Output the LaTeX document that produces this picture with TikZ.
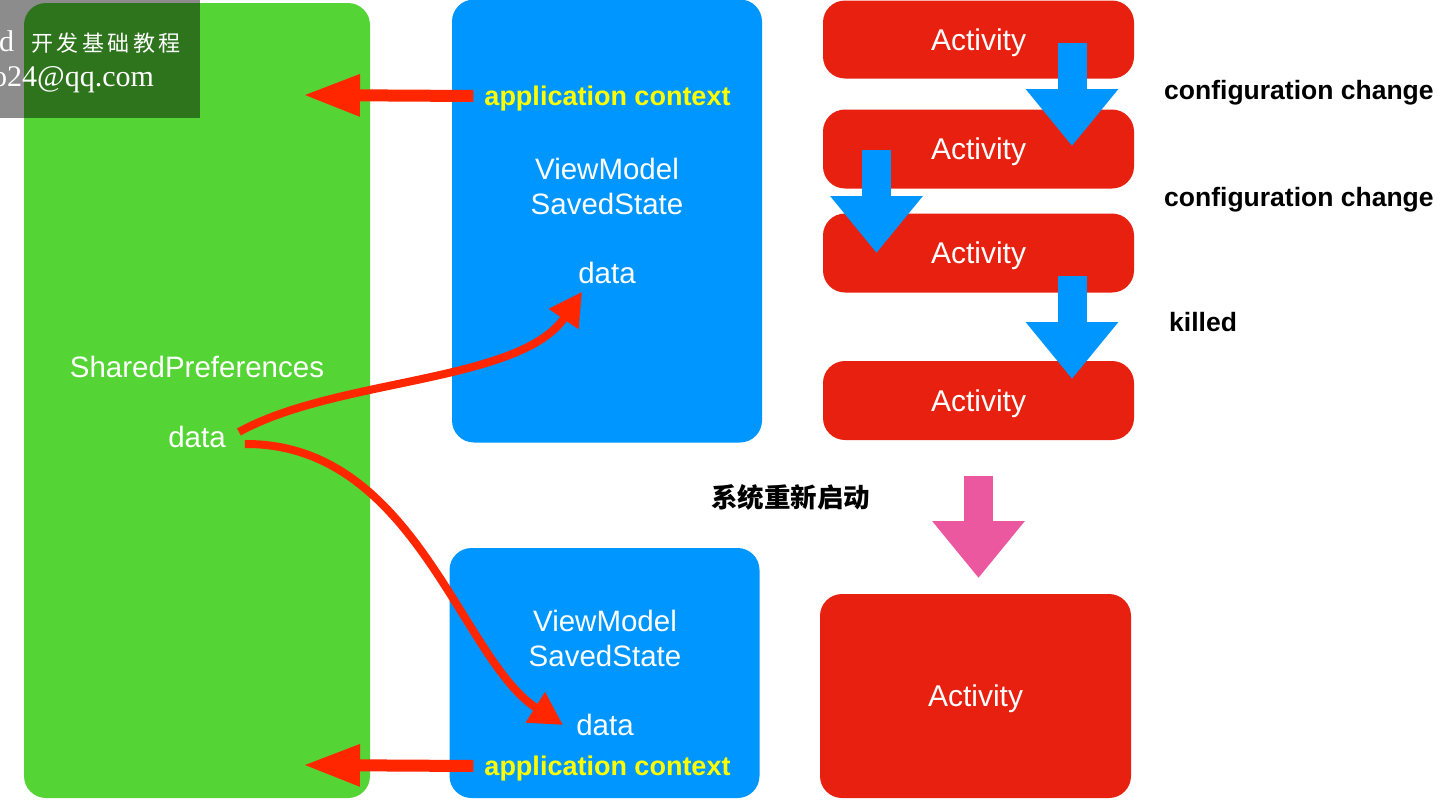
\documentclass[tikz,border=0pt]{standalone}
\usepackage{fontspec}
\setmainfont{Liberation Sans}
\newfontfamily\cjk{Noto Sans CJK SC}
\newfontfamily\wmserif{Liberation Serif}
\newfontfamily\wmcjk{Noto Sans CJK SC}[LetterSpace=16]
\usepackage{xcolor}
\usetikzlibrary{positioning,arrows.meta}

\definecolor{spgreen}{RGB}{85,212,53}
\definecolor{vmblue}{RGB}{0,150,255}
\definecolor{actred}{RGB}{232,32,16}
\definecolor{arrred}{RGB}{255,38,0}
\definecolor{restartpink}{RGB}{236,88,160}
\definecolor{ctxyellow}{RGB}{255,255,0}

\begin{document}
\begin{tikzpicture}[x=1pt,y=-1pt,
	panel/.style={rectangle, rounded corners=22pt, inner sep=0pt, draw=none},
	spbox/.style={panel, fill=spgreen, minimum width=346pt, minimum height=795pt},
	vmbox/.style={panel, fill=vmblue, minimum width=310pt},
	actbox/.style={panel, fill=actred, minimum width=311pt, text=white, font=\fontsize{30}{36}\selectfont, text height=21.5pt, text depth=0pt},
	txt/.style={inner sep=0pt, text=white, font=\fontsize{29.5}{35}\selectfont, text height=21.1pt, text depth=0pt},
	ctx/.style={inner sep=0pt, text=ctxyellow, font=\bfseries\fontsize{27}{32}\selectfont, text height=19.3pt, text depth=0pt},
	note/.style={inner sep=0pt, text=black, font=\bfseries\fontsize{26.5}{32}\selectfont, text height=19pt, text depth=0pt},
	bigdown/.style={line width=29pt, -{Triangle[length=57pt,width=89pt]}},
	pointer/.style={draw=arrred, line width=12pt, -{Triangle[length=57pt,width=39pt]}},
	flow/.style={draw=arrred, line width=8pt, -{Triangle[length=33pt,width=34pt]}},
	wmbox/.style={rectangle, inner sep=0pt, fill=black, fill opacity=0.45, minimum width=200pt, minimum height=118pt},
	wmtext/.style={inner sep=0pt, text=white, font=\wmserif\fontsize{30}{34}\selectfont}
	]
	\useasboundingbox (0,0) rectangle (1444,806);
	\clip (0,0) rectangle (1444,806);
	
	%==================== SharedPreferences ====================
	\node[spbox] (sp) at (197,400.5) {};
	\node[txt] (spname) at (197,367) {SharedPreferences};
	\node[txt] (spdata) at (197,437) {data};
	
	%==================== ViewModel (before) ====================
	\node[vmbox, minimum height=443pt] (vmtop) at (607,221) {};
	\node[ctx] (ctxtop) at (607.5,96) {application context};
	\node[txt] (vmname1) at (607,169) {ViewModel};
	\node[txt, below=13.9pt of vmname1] (vmstate1) {SavedState};
	\node[txt] (vmdata1) at (607,273) {data};
	
	%==================== ViewModel (after) ====================
	\node[vmbox, minimum height=250pt] (vmbot) at (604.5,673) {};
	\node[txt] (vmname2) at (605,621) {ViewModel};
	\node[txt, below=13.9pt of vmname2] (vmstate2) {SavedState};
	\node[txt] (vmdata2) at (605,725) {data};
	\node[ctx] (ctxbot) at (607.5,766) {application context};
	
	%==================== Activity ====================
	\node[actbox, minimum height=78pt] (act1) at (978.5,39.5) {Activity};
	\node[actbox, minimum height=79pt] (act2) at (978.5,149) {Activity};
	\node[actbox, minimum height=79pt] (act3) at (978.5,253) {Activity};
	\node[actbox, minimum height=79pt] (act4) at (978.5,400.5) {Activity};
	\node[actbox, minimum height=204pt] (actnew) at (975.5,696) {Activity};
	
	\node[note, anchor=west] (cfg1) at (1164,90) {configuration change};
	\node[note, anchor=west] (cfg2) at (1164,197) {configuration change};
	\node[note, anchor=west] (kill) at (1169,322) {killed};
	\node[note, font=\cjk\bfseries\fontsize{26.5}{32}\selectfont] (restart) at (790.5,498) {系统重新启动};
	
	\coordinate (d1s) at (1072,43);    \coordinate (d1e) at (1072,146);
	\coordinate (d2s) at (876.5,150);  \coordinate (d2e) at (876.5,253);
	\coordinate (d3s) at (1072,276);   \coordinate (d3e) at (1072,379);
	\coordinate (d4s) at (978.5,476);  \coordinate (d4e) at (978.5,578);
	
	\draw[bigdown, vmblue] (d1s) -- (d1e);
	\draw[bigdown, vmblue] (d2s) -- (d2e);
	\draw[bigdown, vmblue] (d3s) -- (d3e);
	\draw[bigdown, restartpink] (d4s) -- (d4e);
	
	%==================== data flow ====================
	\coordinate (sptip1) at (303,95);
	\coordinate (sptip2) at (303,765);
	\draw[pointer] ([xshift=-11pt]ctxtop.west) -- (sptip1);
	\draw[pointer] ([xshift=-11pt]ctxbot.west) -- (sptip2);
	
	\draw[flow] ([xshift=13pt,yshift=5pt]spdata.east) .. controls (336,378) and (520,383) .. ([xshift=4pt,yshift=-8pt]vmdata1.south west);
	\draw[flow] ([xshift=19pt,yshift=-7pt]spdata.east) .. controls (415,443) and (461,660) .. ([xshift=-13pt]vmdata2.west);
	
	%==================== watermark ====================
	\node[wmbox] (wm) at (100,59) {};
	\node[wmtext, anchor=base west] (wmtitle) at (-1,51) {d\hspace{17pt}{\wmcjk\fontsize{22}{26}\selectfont 开发基础教程}};
	\node[wmtext, anchor=base west] (wmmail) at (-8,86) {o24@qq.com};
	
\end{tikzpicture}
\end{document}
